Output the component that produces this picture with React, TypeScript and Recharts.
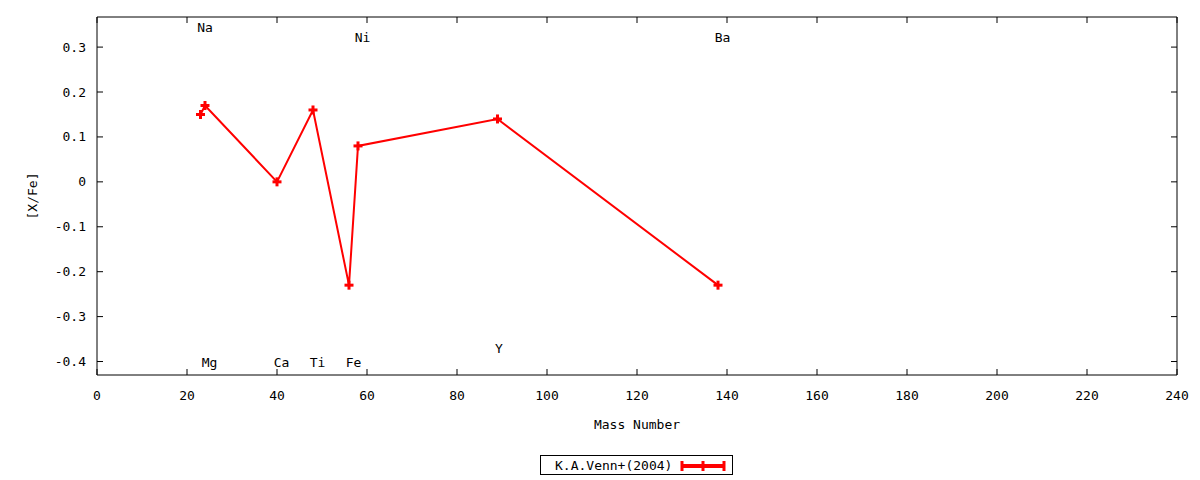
import React from "react";
import {
  ComposedChart,
  Line,
  Scatter,
  XAxis,
  YAxis,
} from "recharts";

// [X/Fe] abundance ratios vs mass number
const masses = [23, 24, 40, 48, 56, 58, 89, 138];
const ratios = [0.15, 0.17, 0.0, 0.16, -0.23, 0.08, 0.14, -0.23];

// element name labels
const elementNames = ["Na", "Mg", "Ca", "Ti", "Fe", "Ni", "Y", "Ba"];
const labelX = [24, 25, 41, 49, 57, 59, 89.3, 139];
const labelY = [0.343, -0.403, -0.403, -0.403, -0.403, 0.321, -0.371, 0.321];

const xTicks = [0, 20, 40, 60, 80, 100, 120, 140, 160, 180, 200, 220, 240];
const yTicks = [-0.4, -0.3, -0.2, -0.1, 0, 0.1, 0.2, 0.3];

const seriesName = "K.A.Venn+(2004)";

const points = masses.map((x, i) => ({ x, y: ratios[i] }));
const labels = elementNames.map((name, i) => ({ x: labelX[i], y: labelY[i], name }));

const FONT = "'DejaVu Sans Mono', monospace";
const RED = "#ff0000";
const TICK = 6;

const Plus = (props: any) => {
  const { cx, cy } = props;
  if (cx == null || cy == null) return null;
  return (
    <g>
      <line x1={cx - 4.5} x2={cx + 4.5} y1={cy} y2={cy} stroke={RED} strokeWidth={3} />
      <line x1={cx} x2={cx} y1={cy - 4.5} y2={cy + 4.5} stroke={RED} strokeWidth={3} />
    </g>
  );
};

const NameLabel = (props: any) => {
  const { cx, cy, payload } = props;
  return (
    <text
      x={cx}
      y={cy}
      textAnchor="middle"
      dominantBaseline="central"
      fontFamily={FONT}
      fontSize={13}
      fill="#000"
    >
      {payload.name}
    </text>
  );
};

// gnuplot-style ticks: drawn inward from the border
const BottomTick = (props: any) => {
  const { x, y, payload } = props;
  return (
    <g>
      <line x1={x} x2={x} y1={y} y2={y - TICK} stroke="#000" />
      <text x={x} y={y + 25} textAnchor="middle" fontFamily={FONT} fontSize={13} fill="#000">
        {payload.value}
      </text>
    </g>
  );
};

const TopTick = (props: any) => {
  const { x, y } = props;
  return <line x1={x} x2={x} y1={y} y2={y + TICK} stroke="#000" />;
};

const LeftTick = (props: any) => {
  const { x, y, payload } = props;
  return (
    <g>
      <line x1={x} x2={x + TICK} y1={y} y2={y} stroke="#000" />
      <text
        x={x - 11}
        y={y}
        textAnchor="end"
        dominantBaseline="central"
        fontFamily={FONT}
        fontSize={13}
        fill="#000"
      >
        {String(payload.value)}
      </text>
    </g>
  );
};

const RightTick = (props: any) => {
  const { x, y } = props;
  return <line x1={x} x2={x - TICK} y1={y} y2={y} stroke="#000" />;
};

export default function App() {
  return (
    <div style={{ position: "absolute", left: 0, top: 0, width: 1200, height: 480, background: "#fff" }}>
      <ComposedChart
        width={1200}
        height={480}
        data={points}
        margin={{ top: 16, right: 22, bottom: 0, left: 0 }}
      >
        <XAxis
          dataKey="x"
          type="number"
          domain={[0, 240]}
          ticks={xTicks}
          allowDataOverflow
          height={105}
          tickSize={0}
          tickMargin={0}
          tickLine={false}
          tick={<BottomTick />}
          axisLine={{ stroke: "#000" }}
          label={{
            value: "Mass Number",
            position: "insideBottom",
            offset: 51,
            fill: "#000",
            fontFamily: FONT,
            fontSize: 13,
          }}
        />
        <XAxis
          xAxisId="top"
          orientation="top"
          dataKey="x"
          type="number"
          domain={[0, 240]}
          ticks={xTicks}
          allowDataOverflow
          height={1}
          tickSize={0}
          tickMargin={0}
          tickLine={false}
          tick={<TopTick />}
          axisLine={{ stroke: "#000" }}
        />
        <YAxis
          type="number"
          domain={[-0.43, 0.367]}
          ticks={yTicks}
          allowDataOverflow
          width={97}
          tickSize={0}
          tickMargin={0}
          tickLine={false}
          tick={<LeftTick />}
          axisLine={{ stroke: "#000" }}
          label={(p: any) => {
            const vb = p.viewBox;
            const cx = vb.x + 32;
            const cy = vb.y + vb.height / 2;
            return (
              <text
                x={cx}
                y={cy}
                transform={`rotate(-90 ${cx} ${cy})`}
                textAnchor="middle"
                dominantBaseline="central"
                fontFamily={FONT}
                fontSize={13}
                fill="#000"
              >
                [X/Fe]
              </text>
            );
          }}
        />
        <YAxis
          yAxisId="right"
          orientation="right"
          type="number"
          domain={[-0.43, 0.367]}
          ticks={yTicks}
          allowDataOverflow
          width={1}
          tickSize={0}
          tickMargin={0}
          tickLine={false}
          tick={<RightTick />}
          axisLine={{ stroke: "#000" }}
        />
        <Line
          dataKey="y"
          type="linear"
          stroke={RED}
          strokeWidth={2}
          dot={<Plus />}
          activeDot={false}
          isAnimationActive={false}
        />
        <Scatter
          data={labels}
          dataKey="y"
          shape={<NameLabel />}
          isAnimationActive={false}
        />
      </ComposedChart>
      <div
        style={{
          position: "absolute",
          left: 540,
          top: 455,
          width: 191,
          height: 18,
          border: "1px solid #000",
          display: "flex",
          alignItems: "center",
          fontFamily: FONT,
          fontSize: 13,
          color: "#000",
          boxSizing: "content-box",
        }}
      >
        <span style={{ marginLeft: 14, width: 124, whiteSpace: "nowrap" }}>{seriesName}</span>
        <svg width={48} height={18} style={{ display: "block" }}>
          <line x1={3} x2={45} y1={10} y2={10} stroke={RED} strokeWidth={4} />
          {[3, 24, 45].map((x) => (
            <line key={x} x1={x} x2={x} y1={5} y2={15} stroke={RED} strokeWidth={3} />
          ))}
        </svg>
      </div>
    </div>
  );
}
